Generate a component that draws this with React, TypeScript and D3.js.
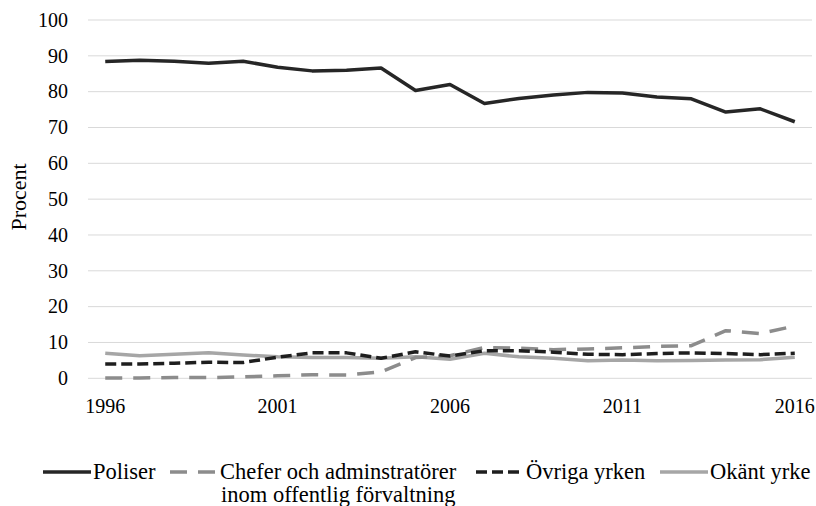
import React, { useEffect, useRef } from 'react';
import * as d3 from 'd3';

// years on the category axis
const years = [
  '1996', '1997', '1998', '1999', '2000', '2001', '2002', '2003', '2004', '2005', '2006',
  '2007', '2008', '2009', '2010', '2011', '2012', '2013', '2014', '2015', '2016',
];
const shownYears = ['1996', '2001', '2006', '2011', '2016'];
const yTicks = [0, 10, 20, 30, 40, 50, 60, 70, 80, 90, 100];

const poliser = [88.4, 88.8, 88.5, 87.9, 88.5, 86.8, 85.8, 86.0, 86.6, 80.3, 82.0, 76.7, 78.1, 79.1, 79.8, 79.6, 78.5, 78.0, 74.3, 75.2, 71.6];
const chefer = [0.1, 0.1, 0.2, 0.2, 0.4, 0.7, 1.0, 0.9, 1.8, 5.8, 6.3, 8.6, 8.4, 8.0, 8.2, 8.5, 8.9, 9.1, 13.3, 12.5, 14.6];
const ovriga = [4.0, 4.0, 4.2, 4.5, 4.4, 5.9, 7.1, 7.1, 5.6, 7.4, 6.2, 7.7, 7.7, 7.3, 6.7, 6.6, 6.9, 7.1, 6.9, 6.6, 7.0];
const okant = [7.0, 6.3, 6.7, 7.1, 6.5, 6.0, 5.8, 5.8, 5.6, 6.0, 5.3, 7.0, 6.0, 5.6, 4.9, 5.1, 4.9, 5.0, 5.1, 5.2, 5.9];

const seriesNames = ['Poliser', 'Chefer och adminstratörer', 'Övriga yrken', 'Okänt yrke'];

function App() {
  const ref = useRef<SVGSVGElement>(null);

  useEffect(() => {
    const w = 816;
    const h = 506;

    const svg = d3.select(ref.current).attr('width', w).attr('height', h);
    svg.selectAll('*').remove();

    const x = d3.scaleBand().domain(years).range([88, 812]);
    const y = d3.scaleLinear().domain([0, 100]).range([378.3, 20]);
    const cx = (yr: string) => (x(yr) as number) + x.bandwidth() / 2;

    // GRID
    svg.append('g')
      .selectAll('line')
      .data(yTicks)
      .join('line')
      .attr('x1', 88)
      .attr('x2', 812)
      .attr('y1', d => y(d))
      .attr('y2', d => y(d))
      .attr('stroke', '#d9d9d9')
      .attr('stroke-width', 1);

    // Y LABELS
    svg.append('g')
      .selectAll('text')
      .data(yTicks)
      .join('text')
      .attr('class', 'lbl')
      .attr('x', 68)
      .attr('y', d => y(d))
      .attr('dy', '0.34em')
      .attr('text-anchor', 'end')
      .attr('font-size', 20)
      .text(d => d);

    // X LABELS
    svg.append('g')
      .selectAll('text')
      .data(shownYears)
      .join('text')
      .attr('class', 'lbl')
      .attr('x', d => cx(d))
      .attr('y', 413)
      .attr('text-anchor', 'middle')
      .attr('font-size', 20)
      .text(d => d);

    // AXIS TITLE
    svg.append('text')
      .attr('class', 'lbl')
      .attr('transform', 'translate(26,197) rotate(-90)')
      .attr('text-anchor', 'middle')
      .attr('font-size', 22)
      .text('Procent');

    const styles = [
      { color: '#262626', dash: null },
      { color: '#8c8c8c', dash: '17,11' },
      { color: '#1e1e1e', dash: '11,5' },
      { color: '#a6a6a6', dash: null },
    ];
    const all = [poliser, chefer, ovriga, okant];
    const drawOrder = [3, 1, 2, 0];

    const line = d3.line<number>()
      .x((_, i) => cx(years[i]))
      .y(d => y(d));

    drawOrder.forEach(k => {
      svg.append('path')
        .attr('d', line(all[k]))
        .attr('fill', 'none')
        .attr('stroke', styles[k].color)
        .attr('stroke-width', 3.5)
        .attr('stroke-linejoin', 'round')
        .attr('stroke-dasharray', styles[k].dash);
    });

    // LEGEND
    const legendX = [43, 170, 476, 660];
    const ly = 472;
    const lg = svg.append('g');
    seriesNames.forEach((name, k) => {
      lg.append('line')
        .attr('x1', legendX[k])
        .attr('x2', legendX[k] + 48)
        .attr('y1', ly)
        .attr('y2', ly)
        .attr('stroke', styles[k].color)
        .attr('stroke-width', 3.5)
        .attr('stroke-dasharray', styles[k].dash);
      lg.append('text')
        .attr('class', 'lbl')
        .attr('x', legendX[k] + 50)
        .attr('y', ly + 7)
        .attr('font-size', 22.5)
        .text(name);
    });
    lg.append('text')
      .attr('class', 'lbl')
      .attr('x', legendX[1] + 51)
      .attr('y', ly + 30)
      .attr('font-size', 22.5)
      .text('inom offentlig förvaltning');
  });

  return (
    <div style={{ position: 'absolute', left: 0, top: 0 }}>
      <style>{`.lbl { font-family: 'Liberation Serif', 'DejaVu Serif', serif; fill: #000; }`}</style>
      <svg ref={ref} style={{ display: 'block', background: '#fff' }}></svg>
    </div>
  );
}

export default App;
